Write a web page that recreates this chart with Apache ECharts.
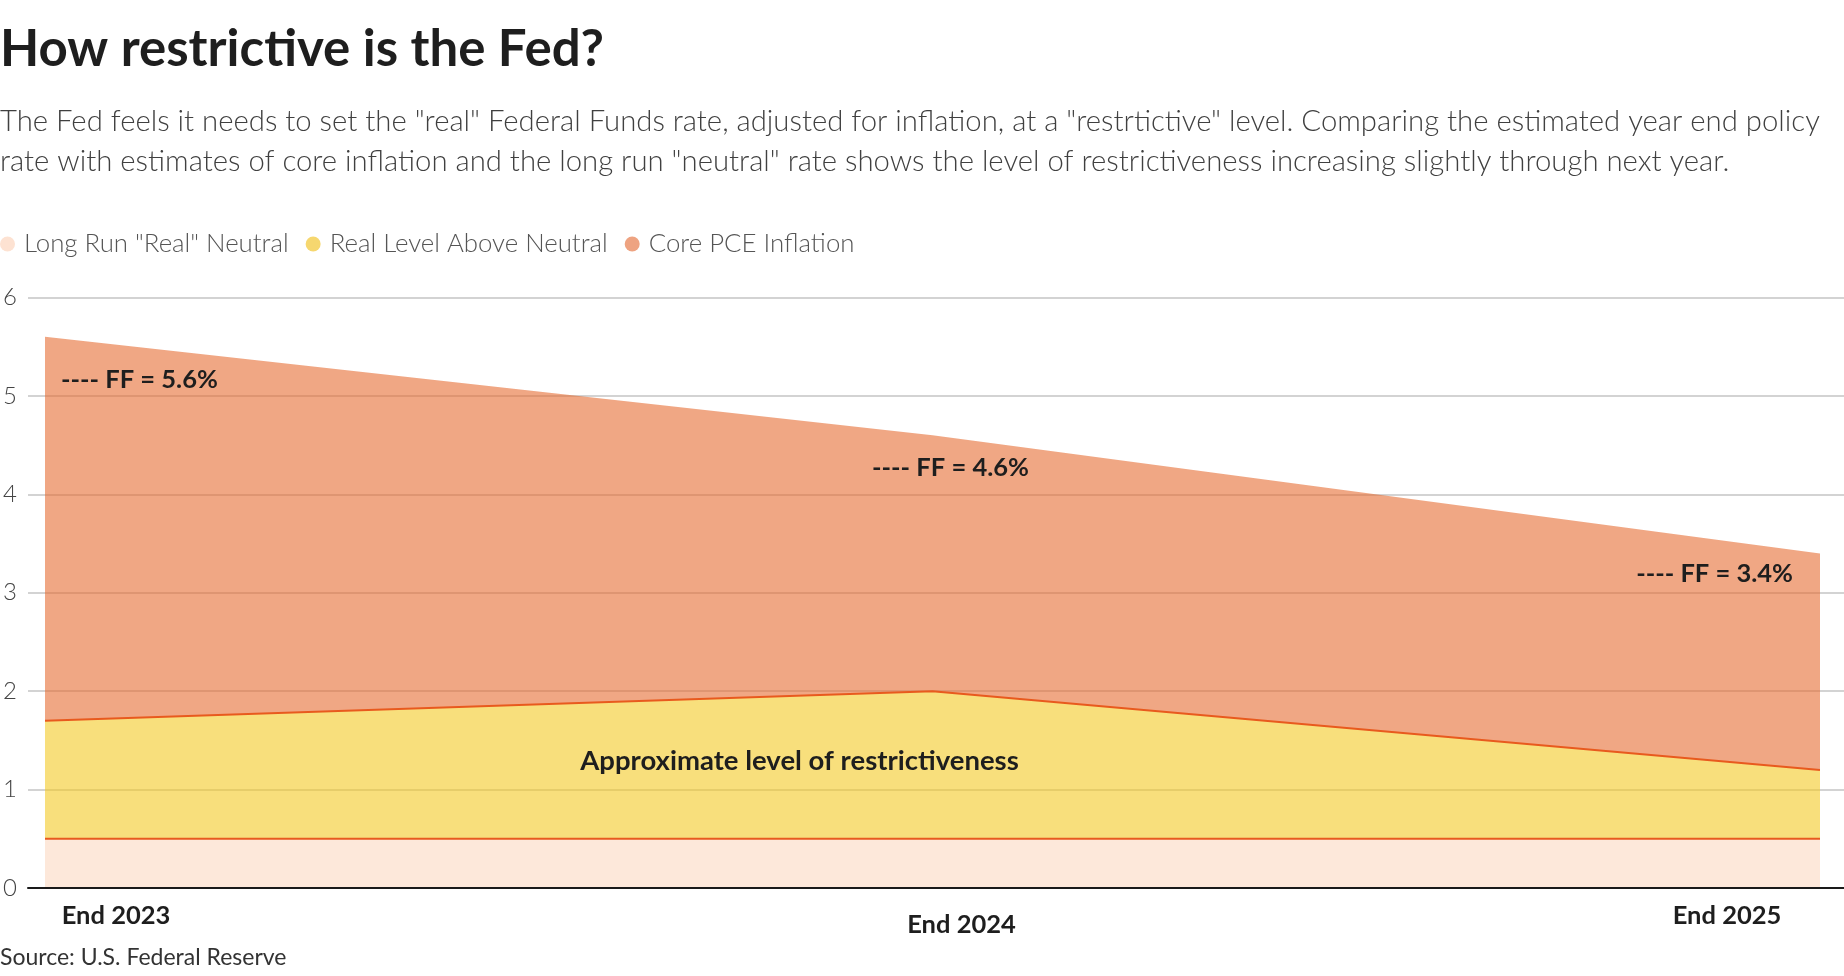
<!DOCTYPE html>
<html>
<head>
<meta charset="utf-8">
<script src="https://cdn.jsdelivr.net/npm/echarts@6/dist/echarts.min.js"></script>
<style>
html,body{margin:0;padding:0;background:#fff;}
#chart{width:1844px;height:976px;}
</style>
</head>
<body>
<div id="chart"></div>
<script>
// ---- data ----
const categories = ['End 2023', 'End 2024', 'End 2025'];
const neutralRate = [0.5, 0.5, 0.5];          // Long Run "Real" Neutral
const aboveNeutral = [1.2, 1.5, 0.7];         // Real Level Above Neutral
const corePce = [3.9, 2.6, 2.2];              // Core PCE Inflation
const fedFunds = [5.6, 4.6, 3.4];             // year-end policy rate (FF)
const yTicks = [0, 1, 2, 3, 4, 5, 6];
const seriesNames = ['Long Run "Real" Neutral', 'Real Level Above Neutral', 'Core PCE Inflation'];
const annotationText = 'Approximate level of restrictiveness';

// ---- styling ----
const FONT = 'Lato, "Noto Sans", sans-serif';
const lineRed = '#e85a1e';
const legendColors = ['#fde2d2', '#f6d76f', '#eea381'];
const areaBase = ['#fcd9c1', '#f3ca25', '#e66c32'];
const ffOffsets = [[16, 43], [18, 32], [-27, 20]];
const ffAlign = ['left', 'center', 'right'];

const chart = echarts.init(document.getElementById('chart'));

const option = {
  backgroundColor: '#ffffff',
  animation: false,
  textStyle: { fontFamily: FONT },
  title: [
    {
      text: 'How restrictive is the Fed?',
      left: 0, top: 24, padding: 0,
      textStyle: { fontFamily: FONT, fontSize: 51, fontWeight: 'bold', color: '#1e1e1e' }
    },
    {
      text: 'The Fed feels it needs to set the "real" Federal Funds rate, adjusted for inflation, at a "restrtictive" level. Comparing the estimated year end policy\nrate with estimates of core inflation and the long run "neutral" rate shows the level of restrictiveness increasing slightly through next year.',
      left: 0, top: 102, padding: 0,
      textStyle: { fontFamily: FONT, fontSize: 29.3, fontWeight: 300, color: '#404040', lineHeight: 40 }
    },
    {
      text: 'Source: U.S. Federal Reserve',
      left: 0, top: 946, padding: 0,
      textStyle: { fontFamily: FONT, fontSize: 23, fontWeight: 'normal', color: '#333' }
    }
  ],
  legend: {
    left: 0, top: 231, padding: 0,
    icon: 'circle',
    itemWidth: 15, itemHeight: 15, itemGap: 17,
    selectedMode: false,
    textStyle: { fontFamily: FONT, fontSize: 25.8, fontWeight: 300, color: '#555', padding: [0, 0, 0, 4] },
    data: seriesNames.map((n, i) => ({ name: n, itemStyle: { color: legendColors[i], opacity: 1 } }))
  },
  grid: [
    { left: 25, right: 0, top: 297.5, bottom: 88 },
    { left: 45, right: 24, top: 297.5, bottom: 88 }
  ],
  xAxis: [
    {
      gridIndex: 0, type: 'value', min: 0, max: 1, z: 10,
      axisLine: { show: true, lineStyle: { color: '#1a1a1a', width: 2 } },
      axisTick: { show: false }, axisLabel: { show: false }, splitLine: { show: false }
    },
    {
      gridIndex: 1, type: 'category', data: categories, boundaryGap: false,
      axisLine: { show: false }, axisTick: { show: false }, splitLine: { show: false },
      axisLabel: {
        interval: 0, margin: 15,
        formatter: (v, i) => '{l' + i + '|' + v + '}',
        rich: {
          l0: { fontFamily: FONT, fontSize: 25.5, fontWeight: 'bold', color: '#1e1e1e', padding: [0, 0, 0, 142] },
          l1: { fontFamily: FONT, fontSize: 25.5, fontWeight: 'bold', color: '#1e1e1e', padding: [9, 0, 0, 58] },
          l2: { fontFamily: FONT, fontSize: 25.5, fontWeight: 'bold', color: '#1e1e1e', padding: [0, 186, 0, 0] }
        }
      }
    }
  ],
  yAxis: [
    {
      gridIndex: 0, type: 'value', min: yTicks[0], max: yTicks[yTicks.length - 1], interval: 1,
      axisLine: { show: false }, axisTick: { show: false },
      axisLabel: { align: 'left', margin: 25, fontFamily: FONT, fontSize: 24, fontWeight: 300, color: '#444' },
      splitLine: { show: true, lineStyle: { color: '#c4c4c4', width: 1.5 } }
    },
    {
      gridIndex: 1, type: 'value', min: yTicks[0], max: yTicks[yTicks.length - 1], show: false
    }
  ],
  series: [
    {
      name: seriesNames[0], type: 'line', stack: 'rate', xAxisIndex: 1, yAxisIndex: 1,
      data: neutralRate, z: 5, showSymbol: false, symbol: 'none',
      itemStyle: { color: legendColors[0] },
      lineStyle: { color: lineRed, width: 2 },
      areaStyle: { color: areaBase[0], opacity: 0.6 }
    },
    {
      name: seriesNames[1], type: 'line', stack: 'rate', xAxisIndex: 1, yAxisIndex: 1,
      z: 4, symbol: 'circle', symbolSize: 0, showSymbol: true,
      data: aboveNeutral.map((v, i) => i === 1 ? {
        value: v,
        label: {
          show: true, position: 'inside', formatter: annotationText, offset: [-133, 70],
          fontFamily: FONT, fontSize: 27.5, fontWeight: 'bold', color: '#1e1e1e'
        }
      } : v),
      itemStyle: { color: legendColors[1] },
      lineStyle: { color: lineRed, width: 2 },
      areaStyle: { color: areaBase[1], opacity: 0.6 }
    },
    {
      name: seriesNames[2], type: 'line', stack: 'rate', xAxisIndex: 1, yAxisIndex: 1,
      data: corePce, z: 3, showSymbol: false, symbol: 'none',
      itemStyle: { color: legendColors[2] },
      lineStyle: { width: 0, color: '#ffffff' },
      areaStyle: { color: areaBase[2], opacity: 0.6 }
    },
    {
      name: 'FF', type: 'line', xAxisIndex: 1, yAxisIndex: 1,
      z: 6, symbol: 'circle', symbolSize: 0, showSymbol: true,
      lineStyle: { opacity: 0 },
      data: fedFunds.map((v, i) => ({
        value: v,
        label: {
          show: true, position: 'inside', align: ffAlign[i], offset: ffOffsets[i],
          formatter: '---- FF = ' + v.toFixed(1) + '%',
          fontFamily: FONT, fontSize: 25.5, fontWeight: 'bold', color: '#1e1e1e'
        }
      }))
    }
  ]
};

chart.setOption(option);
</script>
</body>
</html>
